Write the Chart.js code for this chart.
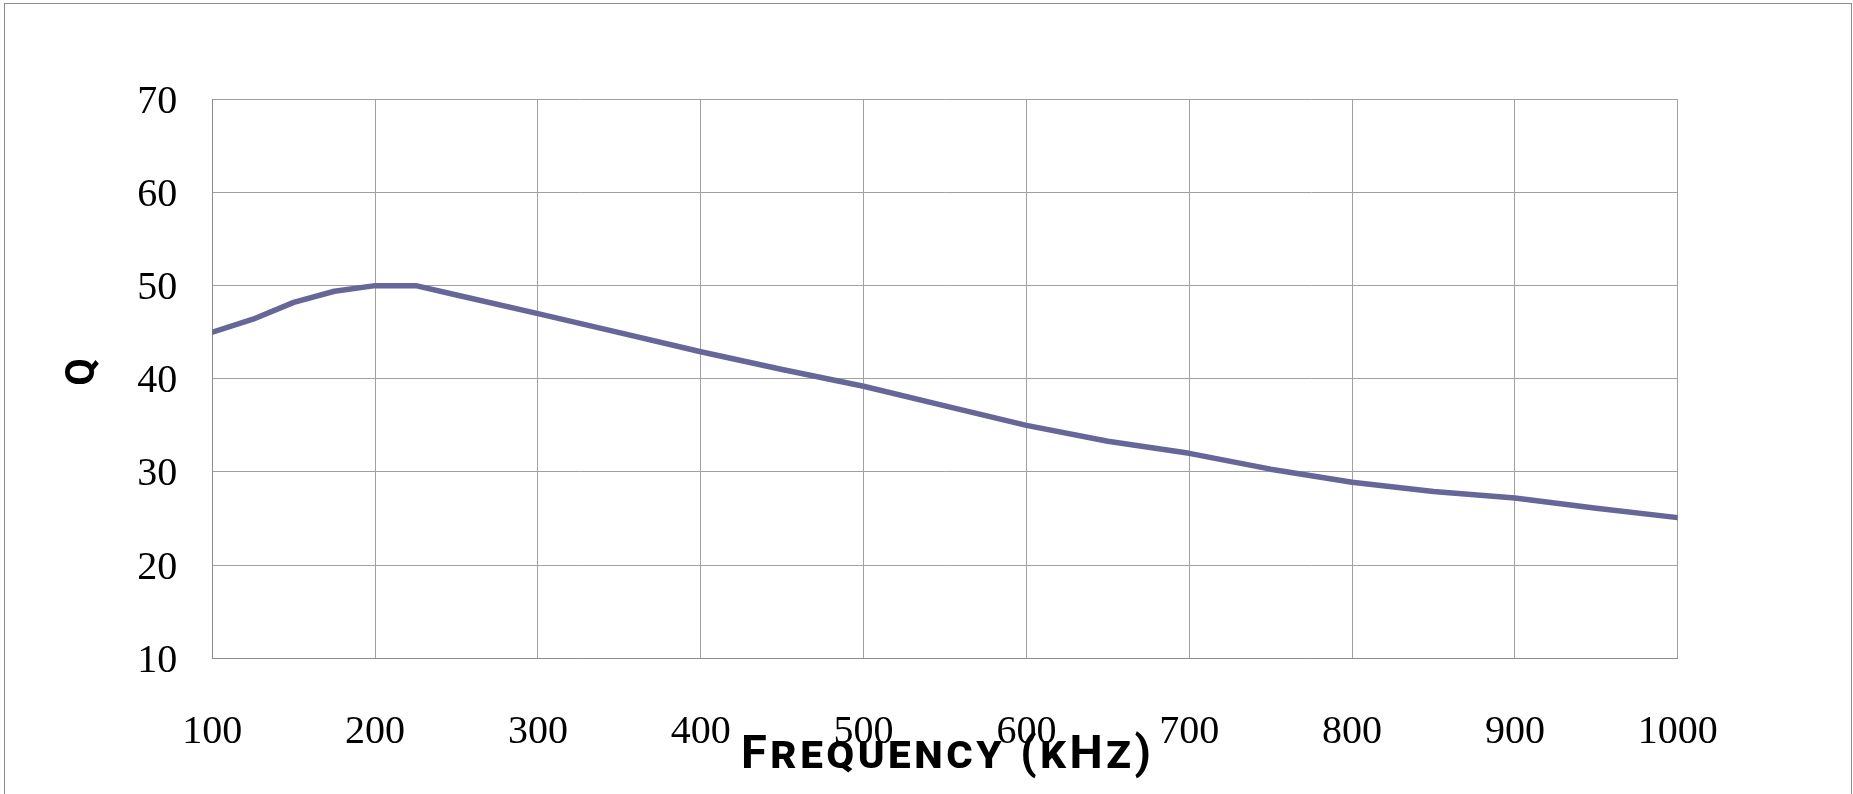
<!DOCTYPE html>
<html>
<head>
<meta charset="utf-8">
<title>Q vs Frequency</title>
<script src="https://cdn.jsdelivr.net/npm/chart.js@4/dist/chart.umd.min.js"></script>
<style>
    body{ margin:0; background:#fff; overflow:hidden; }
    #wrap{ position:relative; width:1853px; height:794px; }
    #marco{ position:absolute; left:4px; top:3px; width:1846px; height:830px; border:1px solid #8c8c8c; pointer-events:none; }
</style>
</head>
<body>
<div id="wrap">
    <canvas id="chartQ" width="1853" height="794"></canvas>
    <div id="marco"></div>
</div>
<script>
// valores
let frecuencias = [100,125,150,175,200,225,250,300,350,400,450,500,550,600,650,700,750,800,850,900,950,1000];
let valoresQ = [45.0,46.4,48.2,49.4,50.0,50.0,49.0,47.0,44.95,42.9,41.0,39.2,37.1,35.0,33.3,32.0,30.3,28.9,27.9,27.2,26.1,25.1];

let ticksX = [100,200,300,400,500,600,700,800,900,1000];
let ticksY = [10,20,30,40,50,60,70];

let tituloX = 'Frequency (kHz)';
let tituloY = 'Q';

let chartQ;

const fuenteNum = { family: '"Liberation Serif", "Times New Roman", serif', size: 40 };

// titulos de ejes con versalitas y espaciado, chart.js no tiene letterSpacing
const titulosEjes = {
    id: 'titulosEjes',
    afterDraw(chart){
        let ctx = chart.ctx;
        ctx.save();
        ctx.fillStyle = '#000';

        ctx.font = 'small-caps bold 47px Roboto, "DejaVu Sans", sans-serif';
        ctx.letterSpacing = '0px';
        let w0 = ctx.measureText(tituloX).width;
        let esp = (410 - w0) / (tituloX.length - 1);
        ctx.letterSpacing = esp + 'px';
        ctx.textAlign = 'left';
        ctx.textBaseline = 'alphabetic';
        ctx.fillText(tituloX, 946 - 205, 768);

        ctx.letterSpacing = '0px';
        ctx.font = 'bold 40px Roboto, "DejaVu Sans", sans-serif';
        ctx.translate(84, 372);
        ctx.rotate(-Math.PI / 2);
        ctx.textAlign = 'center';
        ctx.textBaseline = 'middle';
        ctx.fillText(tituloY, 0, 0);
        ctx.restore();
    }
};

function crearChart(){
    let puntos = frecuencias.map((f, i) => ({ x: f, y: valoresQ[i] }));

    let info = {
        datasets: [{
            label: 'Q',
            data: puntos,
            borderColor: '#666699',
            backgroundColor: '#666699',
            borderWidth: 5.5,
            borderCapStyle: 'round',
            borderJoinStyle: 'round',
            pointRadius: 0,
            tension: 0
        }]
    };

    let config = {
        type: 'line',
        data: info,
        options: {
            responsive: false,
            animation: false,
            devicePixelRatio: 1,
            layout: { padding: { top: 99.3, right: 175.3, left: 0, bottom: 0 } },
            plugins: {
                legend: { display: false },
                tooltip: { enabled: false }
            },
            scales: {
                x: {
                    type: 'linear',
                    min: ticksX[0],
                    max: ticksX[ticksX.length - 1],
                    afterBuildTicks: (s) => { s.ticks = ticksX.map(v => ({ value: v })); },
                    afterFit: (s) => { s.height = 794 - 658.3; },
                    grid: { color: '#a0a0a0', lineWidth: 1, drawTicks: false },
                    border: { color: '#8c8c8c', width: 1 },
                    ticks: { color: '#000', font: fuenteNum, padding: 50, maxRotation: 0, autoSkip: false,
                             callback: (v) => String(v) }
                },
                y: {
                    min: ticksY[0],
                    max: ticksY[ticksY.length - 1],
                    afterBuildTicks: (s) => { s.ticks = ticksY.map(v => ({ value: v })); },
                    afterFit: (s) => { s.width = 212.3; },
                    grid: { color: '#a0a0a0', lineWidth: 1, drawTicks: false },
                    border: { color: '#8c8c8c', width: 1 },
                    ticks: { color: '#000', font: fuenteNum, padding: 35, labelOffset: 3,
                             callback: (v) => String(v) }
                }
            }
        },
        plugins: [titulosEjes]
    };

    chartQ = new Chart(document.getElementById('chartQ'), config);
}

window.addEventListener('DOMContentLoaded', () => {
    crearChart();
});
</script>
</body>
</html>
